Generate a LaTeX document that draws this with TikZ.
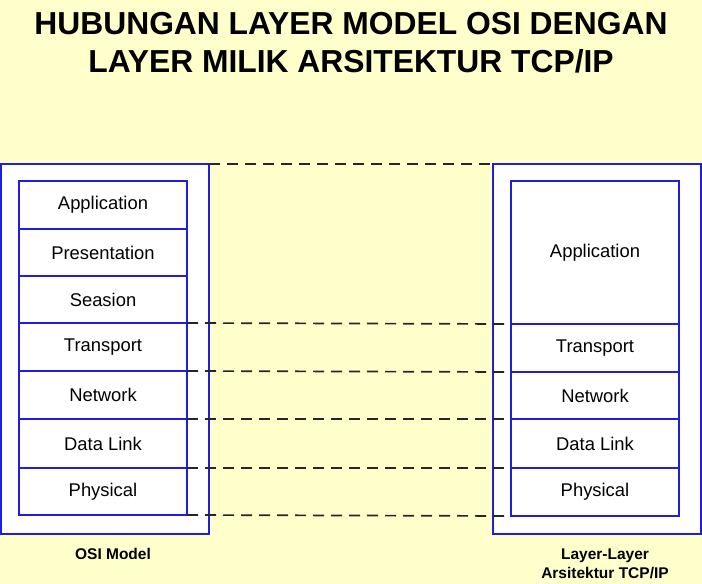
\documentclass[tikz,border=0pt]{standalone}
\usepackage{fontspec}
\setmainfont{Liberation Sans}
\definecolor{bgyellow}{RGB}{255,255,204}
\definecolor{boxblue}{RGB}{30,30,220}
\begin{document}
\begin{tikzpicture}[x=1pt,y=-1pt,
  outerbox/.style={draw=boxblue,line width=1.8pt,fill=white,minimum width=208pt,minimum height=370pt,inner sep=0pt,outer sep=0pt},
  layerbox/.style={draw=boxblue,line width=1.8pt,fill=white,minimum width=168pt,inner sep=0pt,outer sep=0pt,font=\fontsize{18.4}{21}\selectfont},
  dashline/.style={line width=1.7pt,dash pattern=on 11pt off 7pt,black!85},
  titletext/.style={font=\fontsize{31.8}{38}\selectfont\bfseries,anchor=base,inner sep=0pt},
  captext/.style={font=\fontsize{15.5}{19}\selectfont\bfseries,align=center,inner sep=0pt}]
\fill[bgyellow] (0,0) rectangle (702,584);
\useasboundingbox (0,0) rectangle (702,584);

\node[titletext] (t1) at (351,34) {HUBUNGAN LAYER MODEL OSI DENGAN};
\node[titletext] (t2) at (351,72) {LAYER MILIK ARSITEKTUR TCP/IP};

% outer boxes
\node[outerbox] (osiout) at (105,349) {};
\node[outerbox] (tcpout) at (597,349) {};

% OSI layers
\node[layerbox,minimum height=48pt] (oapp) at (103,205) {Application};
\node[layerbox,minimum height=47pt] (opre) at (103,252.5) {Presentation};
\node[layerbox,minimum height=47pt] (oses) at (103,299.5) {Seasion};
\node[layerbox,minimum height=48pt] (otra) at (103,347) {Transport};
\node[layerbox,minimum height=48pt] (onet) at (103,395) {Network};
\node[layerbox,minimum height=49pt] (odat) at (103,443.5) {Data Link};
\node[layerbox,minimum height=47pt] (ophy) at (103,491.5) {Physical};

% TCP/IP layers
\node[layerbox,minimum height=143pt] (tapp) at (595,252.5) {Application};
\node[layerbox,minimum height=48pt] (ttra) at (595,348) {Transport};
\node[layerbox,minimum height=47pt] (tnet) at (595,395.5) {Network};
\node[layerbox,minimum height=49pt] (tdat) at (595,443.5) {Data Link};
\node[layerbox,minimum height=48pt] (tphy) at (595,492) {Physical};

% dashed connectors
\draw[dashline] (osiout.north east) -- (tcpout.north west);
\draw[dashline] (otra.north east) -- (ttra.north west);
\draw[dashline] (otra.south east) -- (tnet.north west);
\draw[dashline] (onet.south east) -- (tdat.north west);
\draw[dashline] (odat.south east) -- (tphy.north west);
\draw[dashline] (ophy.south east) -- (tphy.south west);

% captions
\node[captext] (cosi) at (113,554) {OSI Model};
\node[captext] (ctcp) at (605,564) {Layer-Layer\\Arsitektur TCP/IP};
\end{tikzpicture}
\end{document}
